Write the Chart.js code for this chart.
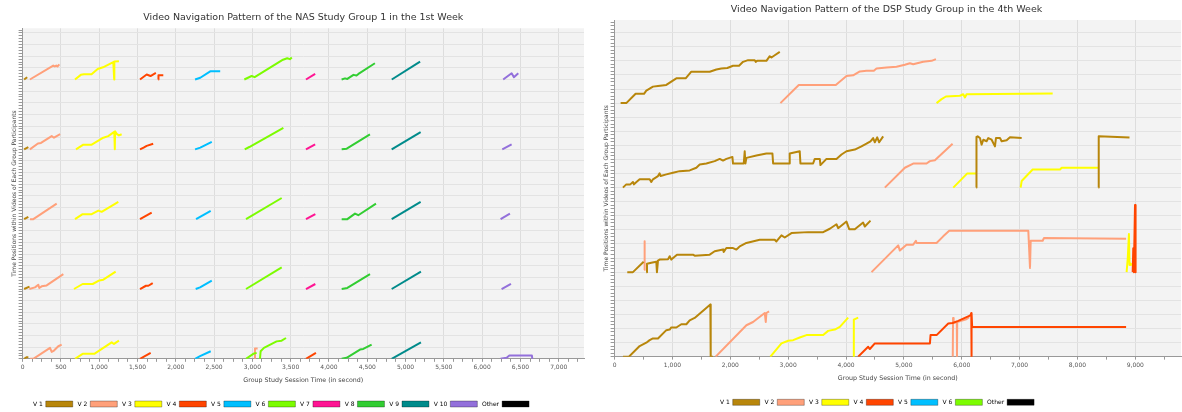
<!DOCTYPE html>
<html>
<head>
<meta charset="utf-8">
<title>Video Navigation Patterns</title>
<script src="https://cdn.jsdelivr.net/npm/chart.js@4.4.1/dist/chart.umd.min.js"></script>
<style>
  html, body { margin: 0; padding: 0; background: #fff; overflow: hidden; }
  #nasBox { position: absolute; left: 0; top: 0; width: 592px; height: 420px; }
  #dspBox { position: absolute; left: 592px; top: 0; width: 590px; height: 420px; }
</style>
</head>
<body>
<div id="nasBox"><canvas id="nasChart" width="592" height="420"></canvas></div>
<div id="dspBox"><canvas id="dspChart" width="590" height="420"></canvas></div>

<script>
// ---- data: [video, session seconds, position offset inside the participant band] ----

const nasVideos = ['V 1', 'V 2', 'V 3', 'V 4', 'V 5', 'V 6', 'V 7', 'V 8', 'V 9', 'V 10', 'Other'];
const nasBases = [24, 18, 12, 6, 0];

const nasRow1 = [
  ['V 1', [20, 60], [0, 0.2]],
  ['V 2', [95, 400, 420, 440, 455, 480], [0, 1.2, 1.12, 1.2, 1.12, 1.3]],
  ['V 3', [684, 760, 800, 900, 980, 1050, 1184, 1196, 1198, 1258], [0, 0.4, 0.45, 0.45, 0.9, 1.05, 1.5, 0, 1.55, 1.57]],
  ['V 4', [1533, 1620, 1670, 1740, 1755, 1772, 1774, 1837], [0, 0.43, 0.3, 0.57, null, 0, 0.37, 0.37]],
  ['V 5', [2252, 2320, 2450, 2580], [0, 0.15, 0.7, 0.7]],
  ['V 6', [2895, 2990, 3030, 3400, 3455, 3490, 3515], [0, 0.3, 0.2, 1.7, 1.83, 1.75, 1.9]],
  ['V 7', [3700, 3820], [0, 0.48]],
  ['V 8', [4165, 4210, 4240, 4320, 4360, 4385, 4600], [0, 0.1, 0.05, 0.4, 0.34, 0.48, 1.4]],
  ['V 9', [4820, 5190], [0, 1.53]],
  ['V 10', [6275, 6385, 6415, 6472], [0, 0.54, 0.2, 0.54]]
];
const nasRow2 = [
  ['V 1', [20, 75], [0, 0.2]],
  ['V 2', [95, 200, 240, 380, 410, 445, 490], [0, 0.5, 0.55, 1.14, 1.0, 1.14, 1.3]],
  ['V 3', [697, 793, 902, 1054, 1118, 1197, 1204, 1208, 1228, 1258, 1293], [0, 0.4, 0.4, 1.0, 1.14, 1.5, 0, 1.55, 1.33, 1.2, 1.3]],
  ['V 4', [1533, 1580, 1620, 1705], [0, 0.15, 0.3, 0.48]],
  ['V 5', [2252, 2320, 2470], [0, 0.15, 0.65]],
  ['V 6', [2900, 2960, 3405], [0, 0.2, 1.85]],
  ['V 7', [3700, 3820], [0, 0.43]],
  ['V 8', [4166, 4232, 4535], [0, 0.06, 1.28]],
  ['V 9', [4819, 5197], [0, 1.48]],
  ['V 10', [6263, 6385], [0, 0.43]]
];
const nasRow3 = [
  ['V 1', [20, 75], [0, 0.2]],
  ['V 2', [97, 140, 445], [0, 0, 1.34]],
  ['V 3', [684, 784, 902, 989, 1032, 1250], [0, 0.43, 0.43, 0.74, 0.63, 1.48]],
  ['V 4', [1533, 1685], [0, 0.57]],
  ['V 5', [2265, 2456], [0, 0.71]],
  ['V 6', [2917, 3383], [0, 1.82]],
  ['V 7', [3700, 3822], [0, 0.43]],
  ['V 8', [4166, 4240, 4340, 4383, 4614], [0, 0, 0.48, 0.34, 1.34]],
  ['V 9', [4819, 5197], [0, 1.48]],
  ['V 10', [6241, 6363], [0, 0.48]]
];
const nasRow4 = [
  ['V 1', [20, 90], [0, 0.2]],
  ['V 2', [88, 162, 205, 218, 249, 314, 532], [0, 0.14, 0.37, 0.09, 0.23, 0.31, 1.28]],
  ['V 3', [671, 784, 915, 1002, 1054, 1215], [0, 0.43, 0.43, 0.74, 0.8, 1.5]],
  ['V 4', [1533, 1611, 1642, 1699], [0, 0.28, 0.28, 0.51]],
  ['V 5', [2260, 2317, 2470], [0, 0.14, 0.71]],
  ['V 6', [2917, 3383], [0, 1.85]],
  ['V 7', [3700, 3822], [0, 0.43]],
  ['V 8', [4166, 4240, 4536], [0, 0.09, 1.28]],
  ['V 9', [4819, 5201], [0, 1.5]],
  ['V 10', [6254, 6376], [0, 0.45]]
];
const nasRow5 = [
  ['V 1', [20, 55, 75], [0, 0.14, 0.14]],
  ['V 2', [97, 140, 358, 380, 410, 466, 510], [0, 0, 0.94, 0.6, 0.71, 1.08, 1.22]],
  ['V 3', [684, 784, 936, 1163, 1193, 1258], [0, 0.43, 0.43, 1.42, 1.28, 1.56]],
  ['V 4', [1533, 1672], [0, 0.51]],
  ['V 5', [2252, 2317, 2456], [0, 0.23, 0.65]],
  ['V 6', [2917, 3012, 3056, 3080, 3099, 3108, 3151, 3316, 3382, 3439], [0, 0.43, 0.51, null, 0, 0.65, 0.94, 1.5, 1.56, 1.79]],
  ['V 2', [3025, 3034, 3069], [0, 0.88, 0.88]],
  ['V 4', [3700, 3830], [0, 0.51]],
  ['V 8', [4166, 4231, 4405, 4448, 4557], [0, 0.09, 0.8, 0.85, 1.22]],
  ['V 9', [4819, 5201], [0, 1.42]],
  ['V 10', [6240, 6320, 6355, 6650, 6655], [0, 0.1, 0.28, 0.28, 0]]
];

const dspVideos = ['V 1', 'V 2', 'V 3', 'V 4', 'V 5', 'V 6', 'Other'];
const dspBases = [18, 12, 6, 0];

const dspRow1 = [
  ['V 1', [104, 202, 363, 508, 548, 663, 750, 894, 980, 1067, 1228, 1326, 1644, 1759, 1845, 1949, 2047, 2151, 2220, 2307, 2422, 2439, 2462, 2624, 2682, 2711, 2768, 2855],
          [0, 0, 0.66, 0.66, 0.89, 1.17, 1.22, 1.29, 1.53, 1.76, 1.76, 2.23, 2.23, 2.39, 2.46, 2.49, 2.65, 2.65, 2.93, 3.05, 3.05, 2.93, 3.0, 3.0, 3.33, 3.24, 3.4, 3.64]],
  ['V 2', [2866, 3183, 3823, 4008, 4123, 4239, 4354, 4481, 4527, 4700, 4873, 5017, 5104, 5161, 5334, 5479, 5554],
          [0, 1.29, 1.29, 1.92, 1.97, 2.25, 2.3, 2.3, 2.46, 2.53, 2.58, 2.72, 2.83, 2.76, 2.93, 3.0, 3.12]],
  ['V 3', [5565, 5652, 5727, 5969, 6026, 6055, 6084, 7572], [0, 0.28, 0.47, 0.52, 0.63, 0.4, 0.63, 0.68]]
];
const dspRow2 = [
  ['V 1', [144, 202, 271, 317, 334, 363, 433, 606, 634, 663, 750, 778, 796, 894, 1009, 1124, 1298, 1413, 1471, 1586,
           1730, 1817, 1874, 1932, 2036, 2047, 2232, 2249, 2261, 2278, 2451, 2624, 2728, 2740, 3016, 3027, 3200, 3212, 3431, 3460,
           3547, 3558, 3662, 3835, 3922, 4008, 4152, 4267, 4354, 4423, 4469, 4498, 4539, 4573, 4642],
          [0, 0.23, 0.23, 0.4, 0.23, 0.35, 0.59, 0.59, 0.4, 0.59, 0.82, 1.01, 0.82, 0.94, 1.06, 1.17, 1.22, 1.41, 1.64, 1.71,
           1.88, 2.04, 1.92, 2.04, 2.18, 1.71, 1.71, 2.58, 1.71, 2.11, 2.28, 2.42, 2.42, 1.71, 1.71, 2.42, 2.58, 1.71, 1.71, 2.04,
           2.04, 1.6, 2.04, 2.04, 2.35, 2.58, 2.7, 2.93, 3.12, 3.29, 3.52, 3.22, 3.57, 3.22, 3.64]],
  ['V 1', [6250, 6255, 6275, 6315, 6344, 6373, 6430, 6459, 6517, 6574, 6592, 6661, 6690, 6776, 6834, 7036],
          [0, 3.6, 3.64, 3.52, 3.05, 3.4, 3.29, 3.52, 3.4, 2.93, 3.52, 3.52, 3.29, 3.36, 3.57, 3.52]],
  ['V 1', [8362, 8368, 8900], [0, 3.64, 3.55]],
  ['V 2', [4671, 5017, 5161, 5392, 5450, 5536, 5842], [0, 1.41, 1.71, 1.71, 1.88, 1.95, 3.12]],
  ['V 3', [5854, 6096, 6250], [0, 1.01, 1.01]],
  ['V 3', [7018, 7036, 7226, 7699, 7728, 8362], [0, 0.47, 1.29, 1.29, 1.41, 1.41]]
];
const dspRow3 = [
  ['V 1', [219, 317, 502, 525, 548, 560, 634, 721, 732, 750, 778, 923, 952, 980, 1078, 1355, 1384, 1644, 1730, 1874,
           1886, 1932, 2047, 2105, 2134, 2163, 2278, 2509, 2768, 2797, 2884, 2941, 3057, 3345, 3605, 3720, 3835, 3864, 4008, 4055,
           4152, 4296, 4325, 4423],
          [0, 0, 0.73, null, 0, 0.59, 0.66, 0.73, 0, 0.82, 0.89, 0.92, 1.13, 0.89, 1.24, 1.24, 1.17, 1.24, 1.48, 1.6,
           1.43, 1.71, 1.71, 1.6, 1.71, 1.83, 2.07, 2.3, 2.3, 2.18, 2.61, 2.46, 2.77, 2.84, 2.84, 3.08, 3.4, 3.12, 3.59, 3.05,
           3.05, 3.52, 3.24, 3.66]],
  ['V 2', [514, 516, 520, 522], [0.15, 2.2, 2.2, 0.3]],
  ['V 2', [4441, 4902, 4931, 5046, 5161, 5208, 5219, 5565, 5680, 5784, 7151, 7180, 7192, 7399, 7422, 8841],
          [0, 1.9, 1.53, 1.95, 1.95, 2.23, 2.07, 2.07, 2.54, 2.93, 2.93, 0.3, 2.23, 2.23, 2.42, 2.37]],
  ['V 3', [8850, 8870, 8890, 8900, 8915, 8925], [0, 1.0, 2.7, 0.5, 0.6, 0.5]],
  ['V 4', [8955, 8965, 8975, 8995, 9005], [0, 1.7, 0, 4.77, 0]]
];
const dspRow4 = [
  ['V 1', [144, 248, 433, 548, 606, 663, 750, 894, 952, 980, 1067, 1153, 1240, 1298, 1384, 1655, 1661, 1701],
          [0, 0, 0.75, 0.99, 1.17, 1.29, 1.29, 1.88, 1.92, 2.07, 2.07, 2.3, 2.3, 2.58, 2.75, 3.71, 0, 0]],
  ['V 2', [1747, 2278, 2393, 2595, 2613, 2624, 2670], [0, 2.23, 2.46, 3.1, 2.46, 3.1, 3.22]],
  ['V 3', [2693, 2884, 3000, 3086, 3200, 3316, 3605, 3691, 3806, 3893, 4037, 4080, 4123, 4135, 4210],
          [0, 0.94, 1.13, 1.17, 1.36, 1.53, 1.53, 1.83, 1.92, 2.11, 2.77, null, 0, 2.63, 2.77]],
  ['V 4', [4210, 4383, 4412, 4498, 5450, 5461, 5565, 5767, 5842, 5940, 6150, 6165, 6168, 6172, 6180, 8841],
          [0, 0.7, 0.54, 0.94, 0.94, 1.53, 1.53, 2.35, 2.39, 2.54, 2.93, 3.1, 0, 3.1, 2.11, 2.11]],
  ['V 2', [5845, 5850, 5860, 5915, 5918, 5922, 5990, 6080, 6130], [0, 2.75, 2.4, 2.45, 0, 2.45, 2.55, 2.65, 2.8]]
];

// ---- styling ----
const videoColors = {
  'V 1': '#b8860b', 'V 2': '#ffa07a', 'V 3': '#ffff00', 'V 4': '#ff4500', 'V 5': '#00bfff',
  'V 6': '#7cfc00', 'V 7': '#ff1493', 'V 8': '#32cd32', 'V 9': '#008b8b', 'V 10': '#9370db', 'Other': '#000000'
};
const FONT = "'DejaVu Sans', 'Liberation Sans', sans-serif";
const PLOT_BG = '#f3f3f3';
const AXIS_COLOR = '#999999';

function isMajor(v, step) {
  return Math.abs(v / step - Math.round(v / step)) < 1e-6;
}

// evenly stepped ticks from 0 to max, without Chart.js re-spacing them
function stepTicks(step) {
  return scale => {
    const ticks = [];
    for (let i = 0; i * step <= scale.max + 1e-9; i++) ticks.push({ value: Math.round(i * step * 1000) / 1000 });
    scale.ticks = ticks;
  };
}

function makeDatasets(rows, bases) {
  const sets = [];
  rows.forEach((row, r) => {
    row.forEach(([label, xs, ys]) => {
      sets.push({
        label: label,
        data: xs.map((x, i) => ({ x: x, y: ys[i] === null ? null : bases[r] + ys[i] })),
        borderColor: videoColors[label],
        backgroundColor: videoColors[label],
        borderWidth: 2,
        borderJoinStyle: 'round',
        pointRadius: 0,
        tension: 0,
        fill: false,
        spanGaps: false
      });
    });
  });
  return sets;
}

const plotBackground = {
  id: 'plotBackground',
  beforeDraw(chart) {
    const { ctx, chartArea: a } = chart;
    ctx.save();
    ctx.fillStyle = PLOT_BG;
    ctx.fillRect(a.left, a.top, a.right - a.left, a.bottom - a.top);
    ctx.restore();
  }
};

function drawPanel(canvasId, cfg) {
  const legendShift = {
    id: 'legendShift',
    afterLayout(chart) {
      chart.legend.left += cfg.legendDx;
      chart.legend.right += cfg.legendDx;
    }
  };

  new Chart(document.getElementById(canvasId), {
    type: 'line',
    data: { datasets: makeDatasets(cfg.rows, cfg.bases) },
    plugins: [plotBackground, legendShift],
    options: {
      responsive: false,
      animation: false,
      events: [],
      layout: { padding: { left: 0, right: cfg.padRight, top: 0, bottom: cfg.padBottom } },
      plugins: {
        title: {
          display: true,
          text: cfg.title,
          color: '#333',
          fullSize: cfg.titleFull,
          font: { family: FONT, size: 9.5, weight: 'normal' },
          padding: cfg.titlePad
        },
        legend: {
          position: 'bottom',
          rtl: true,
          reverse: true,
          textDirection: 'ltr',
          onClick: null,
          labels: {
            boxWidth: 27,
            boxHeight: 6,
            padding: 4.7,
            color: '#444',
            font: { family: FONT, size: 6 },
            generateLabels: () => cfg.videos.map(v => ({
              text: v,
              fillStyle: videoColors[v],
              strokeStyle: 'rgba(0,0,0,0.3)',
              lineWidth: 1,
              hidden: false
            }))
          }
        },
        tooltip: { enabled: false }
      },
      scales: {
        x: {
          type: 'linear',
          min: 0,
          max: cfg.xMax,
          afterBuildTicks: stepTicks(cfg.xMinor),
          border: { color: AXIS_COLOR },
          grid: {
            color: c => isMajor(c.tick.value, cfg.xGrid) ? '#dddddd' : 'rgba(0,0,0,0)',
            tickColor: AXIS_COLOR,
            tickLength: 3
          },
          ticks: {
            autoSkip: false,
            maxRotation: 0,
            padding: 2,
            color: '#555',
            font: { family: FONT, size: 6 },
            callback: v => isMajor(v, cfg.xMajor) ? Number(v).toLocaleString('en-US') : ''
          },
          title: {
            display: true,
            text: 'Group Study Session Time (in second)',
            color: '#444',
            font: { family: FONT, size: 6.3 },
            padding: cfg.xTitlePad
          }
        },
        y: {
          min: 0,
          max: cfg.yMax,
          afterBuildTicks: stepTicks(0.25),
          border: { color: AXIS_COLOR },
          grid: {
            color: c => isMajor(c.tick.value, 1) ? '#e3e3e3' : 'rgba(0,0,0,0)',
            tickColor: AXIS_COLOR,
            tickLength: 4
          },
          ticks: { display: false },
          title: {
            display: true,
            text: 'Time Positions within Videos of Each Group Participants',
            color: '#444',
            font: { family: FONT, size: 6 },
            padding: { top: 10.9, bottom: 0.5 }
          }
        }
      }
    }
  });
}

drawPanel('nasChart', {
  title: 'Video Navigation Pattern of the NAS Study Group 1 in the 1st Week',
  videos: nasVideos,
  rows: [nasRow1, nasRow2, nasRow3, nasRow4, nasRow5],
  bases: nasBases,
  xMax: 7330, xMinor: 125, xMajor: 500, xGrid: 500,
  yMax: 28.4,
  padRight: 8, padBottom: 3,
  titleFull: false,
  titlePad: { top: 11.6, bottom: 5.3 },
  xTitlePad: { top: 4.0, bottom: 11.7 },
  legendDx: -11
});

drawPanel('dspChart', {
  title: 'Video Navigation Pattern of the DSP Study Group in the 4th Week',
  videos: dspVideos,
  rows: [dspRow1, dspRow2, dspRow3, dspRow4],
  bases: dspBases,
  xMax: 9790, xMinor: 500, xMajor: 1000, xGrid: 1000,
  yMax: 23.9,
  padRight: 1, padBottom: 4.7,
  titleFull: true,
  titlePad: { top: 4.3, bottom: 4.3 },
  xTitlePad: { top: 4.2, bottom: 12.0 },
  legendDx: -9.5
});
</script>
</body>
</html>
